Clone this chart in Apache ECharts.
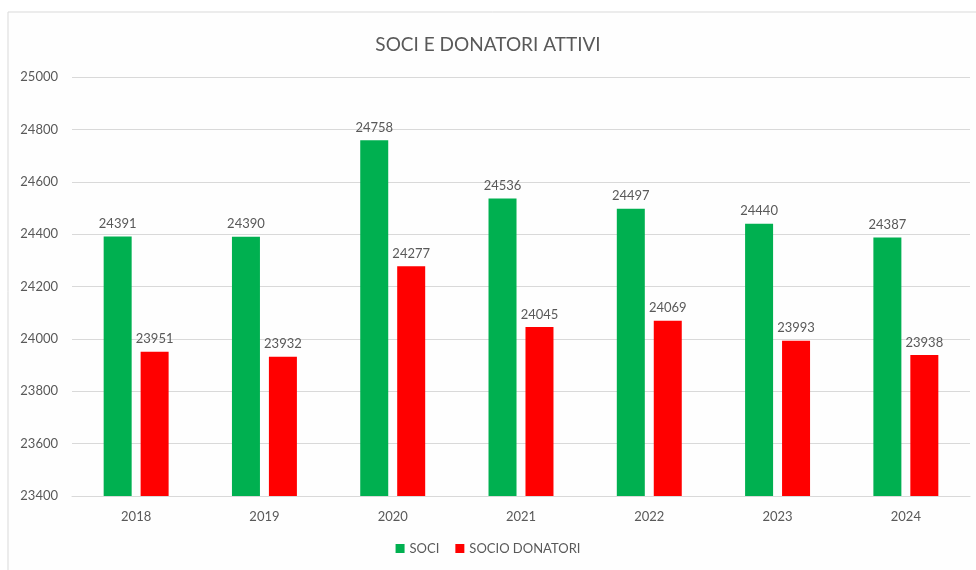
<!DOCTYPE html>
<html><head><meta charset="utf-8">
<script src="https://cdn.jsdelivr.net/npm/echarts@6/dist/echarts.min.js"></script>
<style>html,body{margin:0;padding:0;background:#fff}#c{width:976px;height:570px}</style>
</head><body><div id="c"></div>
<script>
var years = ['2018','2019','2020','2021','2022','2023','2024'];
var soci = [24391,24390,24758,24536,24497,24440,24387];
var socioDonatori = [23951,23932,24277,24045,24069,23993,23938];
var yTicks = {min:23400, max:25000, step:200};

var chart = echarts.init(document.getElementById('c'));
var txt = '#595959';
var ff = 'Lato, "Liberation Sans", sans-serif';
chart.setOption({
  backgroundColor:'#ffffff',
  animation:false,
  graphic:[{type:'rect',shape:{x:8,y:12,width:980,height:600},style:{fill:'#fefefe',stroke:'#d9d9d9',lineWidth:1},z:-10}],
  title:{text:'SOCI E DONATORI ATTIVI',left:'center',top:30,textStyle:{fontFamily:ff,fontSize:19,fontWeight:'normal',color:txt}},
  legend:{bottom:10,itemWidth:9,itemHeight:9,itemGap:16,icon:'rect',textStyle:{fontFamily:ff,fontSize:13,color:txt},data:['SOCI','SOCIO DONATORI']},
  grid:{left:72,right:6,top:77,bottom:74,containLabel:false},
  xAxis:{type:'category',data:years,axisLine:{lineStyle:{color:'#d9d9d9'}},axisTick:{show:false},
    axisLabel:{fontFamily:ff,fontSize:13,color:txt,margin:14}},
  yAxis:{type:'value',min:yTicks.min,max:yTicks.max,interval:yTicks.step,
    axisLabel:{fontFamily:ff,fontSize:13,color:txt,margin:14,align:'right',formatter:function(v){return String(v);}},
    splitLine:{lineStyle:{color:'#d9d9d9'}},axisLine:{show:false},axisTick:{show:false}},
  series:[
    {name:'SOCI',type:'bar',data:soci,barWidth:28,barGap:'32%',itemStyle:{color:'#00b050'},
     label:{show:true,position:'top',distance:6,fontFamily:ff,fontSize:13,color:txt}},
    {name:'SOCIO DONATORI',type:'bar',data:socioDonatori,barWidth:28,itemStyle:{color:'#ff0000'},
     label:{show:true,position:'top',distance:6,fontFamily:ff,fontSize:13,color:txt}}
  ]
});
</script></body></html>
